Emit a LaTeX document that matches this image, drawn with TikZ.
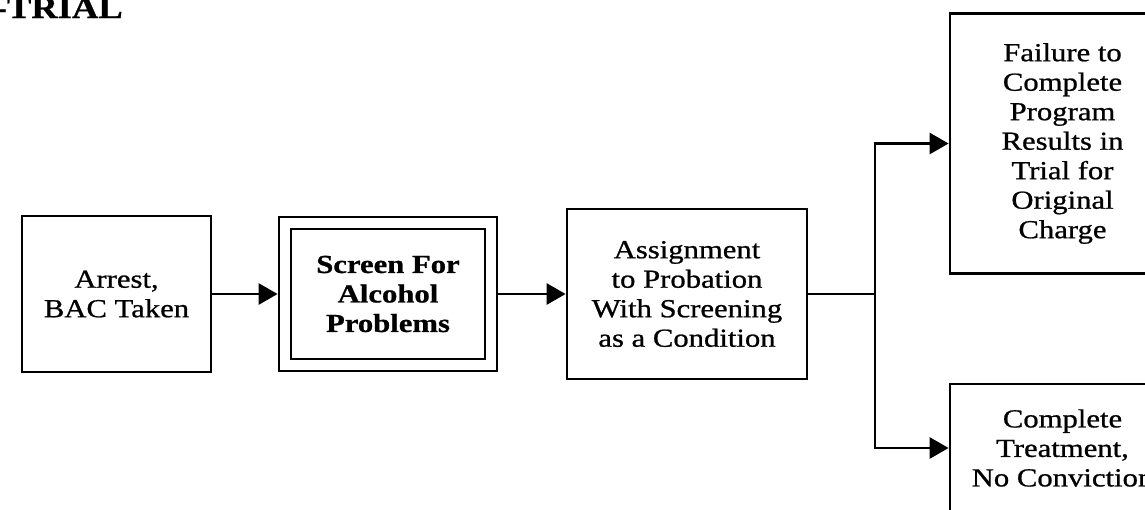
\documentclass[tikz,border=0pt]{standalone}
\usepackage{fontspec}
\setmainfont{Liberation Serif}[FakeStretch=1.18, FakeBold=0.8]
\usetikzlibrary{arrows.meta}
\begin{document}
\begin{tikzpicture}[x=1pt,y=-1pt,
  box/.style={draw=black, line width=2.8pt, inner sep=0pt, align=center,
    font=\fontsize{26}{29.5}\selectfont},
  conn/.style={line width=2.8pt},
  arr/.style={conn, -{Triangle[length=19pt,width=21pt]}},
  ]
\useasboundingbox (0,0) rectangle (1145,509);
\clip (0,0) rectangle (1145,509);
\fill[white] (0,0) rectangle (1145,509);

\node[anchor=base east, inner sep=0pt, font=\fontsize{31}{31}\selectfont\bfseries] (title) at (123,18) {-TRIAL};

\node[box, minimum width=189pt, minimum height=156pt] (b1) at (116.5,294) {Arrest,\\BAC Taken};
\node[box, minimum width=218pt, minimum height=154pt] (b2) at (388,294) {};
\node[box, minimum width=194pt, minimum height=130pt, font=\fontsize{26}{29.5}\selectfont\bfseries] (b2i) at (388,294) {Screen For\\Alcohol\\Problems};
\node[box, minimum width=240pt, minimum height=170pt] (b3) at (687,294) {Assignment\\to Probation\\With Screening\\as a Condition};
\node[box, minimum width=225pt, minimum height=260pt] (b4) at (1062.5,143.5) {Failure to\\Complete\\Program\\Results in\\Trial for\\Original\\Charge};
\node[box, minimum width=225pt, minimum height=128pt] (b5) at (1062.5,448) {Complete\\Treatment,\\No Conviction};

\coordinate (j) at (875,294);
\draw[arr] (b1.east) -- (b2.west);
\draw[arr] (b2.east) -- (b3.west);
\draw[conn] (b3.east) -- (j);
\draw[arr] (j) |- (b4.west);
\draw[arr] (j) |- (b5.west);
\end{tikzpicture}
\end{document}
